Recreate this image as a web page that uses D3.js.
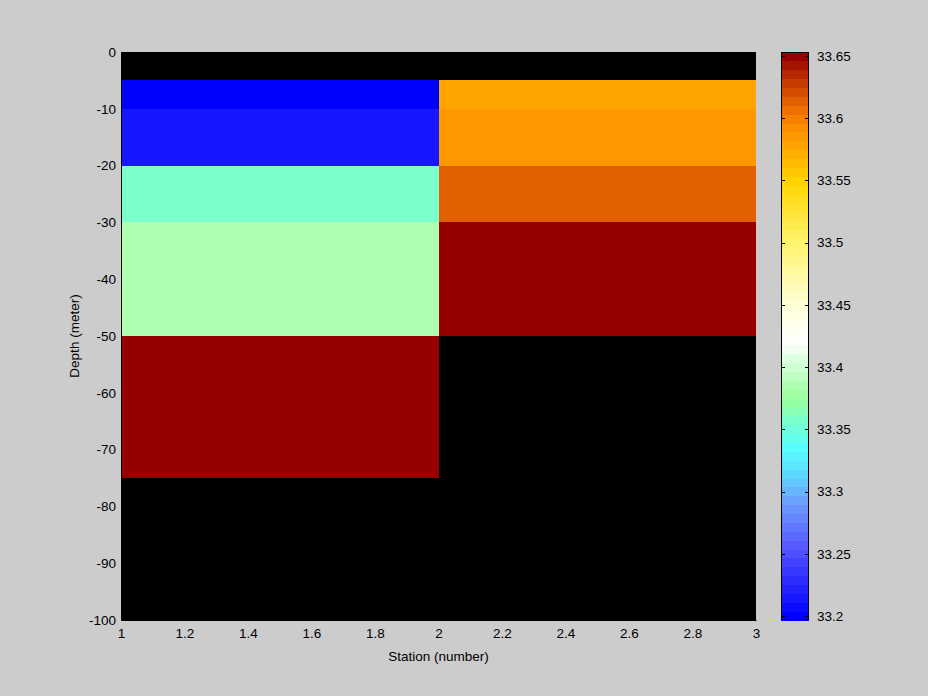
<!DOCTYPE html>
<html><head><meta charset="utf-8">
<script src="https://cdn.jsdelivr.net/npm/d3@7"></script>
<style>html,body{margin:0;padding:0;background:#cccccc;}svg{display:block;}text{font-family:"Liberation Sans",Arial,Helvetica,sans-serif;font-size:13.5px;fill:#000;}</style>
</head><body><svg id="c" width="928" height="696"></svg>
<script>
// ---- data ----
const stationEdges = [1, 2, 3];
const depthEdges = [0, -5, -10, -20, -30, -50, -75, -100];
// salinity per cell: rows = depth intervals (top to bottom), null = no data
const station1Values = [null, 33.200, 33.212, 33.357, 33.383, 33.653, null];
const station2Values = [null, 33.578, 33.588, 33.617, 33.653, null, null];
const xTicks = [1, 1.2, 1.4, 1.6, 1.8, 2, 2.2, 2.4, 2.6, 2.8, 3];
const yTicks = [0, -10, -20, -30, -40, -50, -60, -70, -80, -90, -100];
const cbTicks = [33.2, 33.25, 33.3, 33.35, 33.4, 33.45, 33.5, 33.55, 33.6, 33.65];
const cLim = [33.1968, 33.6532];
const nColors = 64;
const cmapStops = [
  [0.00, "#0000ff"], [0.12, "#5555ff"], [0.20, "#6c9cff"], [0.25, "#5fd4ff"],
  [0.30, "#55ffff"], [0.345, "#78ffd0"], [0.39, "#99ff99"], [0.446, "#d0ffd4"],
  [0.49, "#ffffff"], [0.555, "#ffffd8"], [0.665, "#fff470"], [0.775, "#ffd400"],
  [0.84, "#ffa500"], [0.885, "#fa8400"], [0.93, "#dc5600"], [1.00, "#960000"]
];

// ---- layout ----
const svg = d3.select("#c");
const L = 121, R = 756, T = 52, B = 620;
const x = d3.scaleLinear().domain([1, 3]).range([L, R]);
const y = d3.scaleLinear().domain([0, -100]).range([T, B]);
const fmt = d => String(+d.toFixed(4));

const stopScale = d3.scaleLinear().domain(cmapStops.map(s => s[0])).range(cmapStops.map(s => s[1])).interpolate(d3.interpolateRgb).clamp(true);
const cmap = d3.range(nColors).map(i => d3.color(stopScale(i / (nColors - 1))).formatHex());
const colorOf = v => {
  let i = Math.floor((v - cLim[0]) / (cLim[1] - cLim[0]) * nColors);
  i = Math.max(0, Math.min(nColors - 1, i));
  return cmap[i];
};

svg.append("rect").attr("x", L).attr("y", T).attr("width", R - L).attr("height", B - T).attr("fill", "#000");
const cols = [station1Values, station2Values];
const cells = [];
cols.forEach((vals, ci) => vals.forEach((v, ri) => {
  if (v !== null) cells.push({x0: stationEdges[ci], x1: stationEdges[ci + 1], y0: depthEdges[ri], y1: depthEdges[ri + 1], v});
}));
svg.append("g").selectAll("rect").data(cells).join("rect")
  .attr("x", d => x(d.x0)).attr("y", d => y(d.y0))
  .attr("width", d => x(d.x1) - x(d.x0)).attr("height", d => y(d.y1) - y(d.y0))
  .attr("fill", d => colorOf(d.v)).attr("shape-rendering", "crispEdges");

// axes
const xAxis = d3.axisBottom(x).tickValues(xTicks).tickSize(0).tickPadding(8).tickFormat(fmt);
const gx = svg.append("g").attr("transform", `translate(0,${B})`).call(xAxis);
gx.select(".domain").attr("stroke", "#000");
const yAxis = d3.axisLeft(y).tickValues(yTicks).tickSize(0).tickPadding(5).tickFormat(fmt);
const gy = svg.append("g").attr("transform", `translate(${L},0)`).call(yAxis);
gy.select(".domain").attr("stroke", "#000");
svg.selectAll(".tick text").style("font-size", "13.5px").style("font-family", "'Liberation Sans',Arial,sans-serif").attr("fill", "#000");

svg.append("text").attr("x", (L + R) / 2).attr("y", 661).attr("text-anchor", "middle").text("Station (number)");
svg.append("text").attr("transform", `translate(79,${(T + B) / 2}) rotate(-90)`).attr("text-anchor", "middle").text("Depth (meter)");

// colorbar
const cbL = 781, cbR = 809;
const cy = d3.scaleLinear().domain(cLim).range([B, T]);
const bins = d3.range(nColors);
const binH = (B - T) / nColors;
svg.append("g").selectAll("rect").data(bins).join("rect")
  .attr("x", cbL).attr("width", cbR - cbL)
  .attr("y", i => B - (i + 1) * binH).attr("height", binH + 0.5)
  .attr("fill", i => cmap[i]).attr("shape-rendering", "crispEdges");
svg.append("rect").attr("x", cbL + 0.5).attr("y", T + 0.5).attr("width", cbR - cbL - 1).attr("height", B - T - 1)
  .attr("fill", "none").attr("stroke", "#000");
const cbAxis = d3.axisRight(cy).tickValues(cbTicks).tickSize(0).tickPadding(8).tickFormat(fmt);
const gcb = svg.append("g").attr("transform", `translate(${cbR},0)`).call(cbAxis);
gcb.select(".domain").remove();
gcb.selectAll(".tick text").style("font-size", "13.5px");
const tg = svg.append("g").attr("stroke", "#000");
cbTicks.forEach(t => {
  tg.append("line").attr("x1", cbL).attr("x2", cbL + 4).attr("y1", Math.round(cy(t)) + 0.5).attr("y2", Math.round(cy(t)) + 0.5);
  tg.append("line").attr("x1", cbR - 4).attr("x2", cbR).attr("y1", Math.round(cy(t)) + 0.5).attr("y2", Math.round(cy(t)) + 0.5);
});
</script></body></html>
